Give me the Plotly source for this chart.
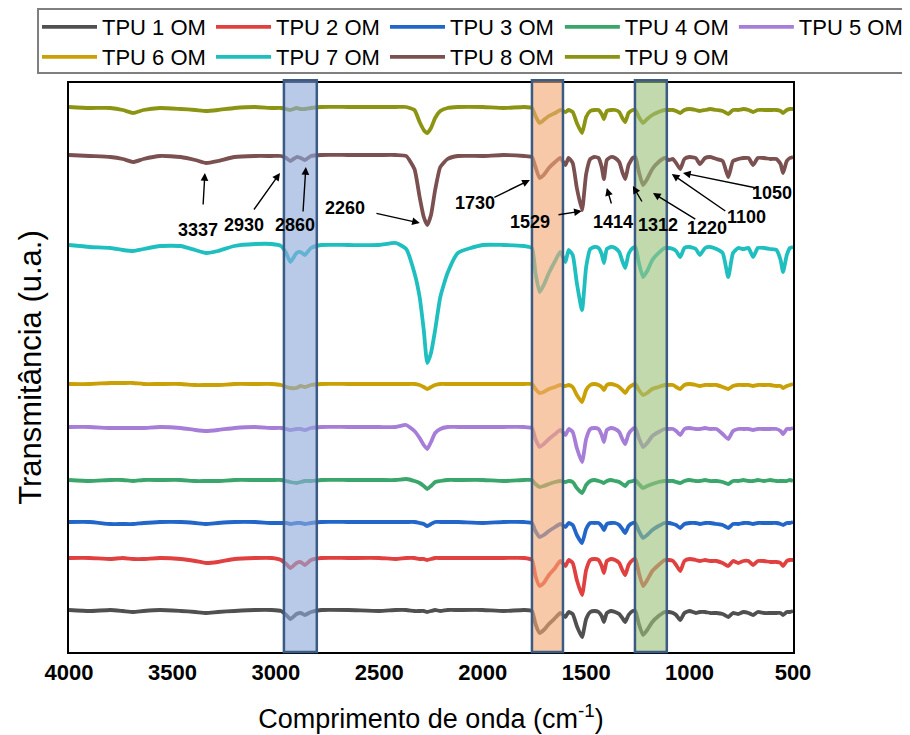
import plotly.graph_objects as go

# ---------------- data ----------------
wavenumber = [4000, 3900, 3800, 3740, 3690, 3640, 3560, 3460, 3390, 3337,
              3280, 3200, 3100, 3020, 2975, 2950, 2930, 2900, 2880, 2860,
              2830, 2780, 2650, 2500, 2420, 2370, 2330, 2305, 2285, 2268,
              2250, 2230, 2205, 2170, 2120, 2000, 1900, 1800, 1762, 1745,
              1725, 1705, 1680, 1650, 1625, 1600, 1585, 1565, 1545, 1520,
              1500, 1480, 1460, 1440, 1425, 1414, 1400, 1380, 1360, 1340,
              1325, 1311, 1295, 1275, 1262, 1245, 1225, 1205, 1180, 1150,
              1120, 1100, 1080, 1065, 1045, 1025, 1000, 970, 950, 925,
              900, 870, 840, 813, 790, 765, 740, 715, 693, 670,
              640, 610, 580, 560, 548, 530, 515, 500]

series_names = ["TPU 1 OM", "TPU 2 OM", "TPU 3 OM", "TPU 4 OM", "TPU 5 OM",
                "TPU 6 OM", "TPU 7 OM", "TPU 8 OM", "TPU 9 OM"]

# vertical offset of each spectrum (u.a.)
offsets = [42, 94, 130, 172, 225, 268, 407, 497, 545]

# band depth below each spectrum's baseline (u.a.), one value per wavenumber
tpu1_band = [0, 1, 0, 1, 2, 1, 0, 1, 2, 3,
             2, 1, 0, 0, 1, 5, 9, 4, 3, 5,
             2, 0, 0, 1, 0, 0, 1, 1, 1, 2,
             1, 0, 1, 0, 0, 0, 1, 0, 1, 14,
             23, 20, 14, 8, 3, 7, 2, 4, 16, 27,
             9, 2, 1, 2, 6, 12, 3, 1, 2, 4,
             8, 12, 5, 1, 1, 14, 25, 20, 12, 6,
             2, 2, 3, 5, 10, 3, 1, 3, 2, 2,
             3, 3, 4, 7, 3, 4, 2, 3, 5, 2,
             3, 3, 3, 3, 5, 2, 2, 1]
tpu2_band = [0, 0, 1, 0, 1, 1, 0, 1, 3, 5,
             4, 1, 0, 0, 2, 6, 10, 5, 4, 7,
             2, 0, 0, 0, 1, 0, 0, 1, 1, 2,
             1, 0, 0, 0, 0, 0, 0, 0, 2, 18,
             28, 25, 17, 10, 3, 8, 2, 5, 22, 37,
             12, 2, 1, 2, 8, 15, 3, 1, 2, 5,
             12, 17, 7, 2, 1, 15, 28, 22, 13, 7,
             2, 2, 3, 7, 13, 3, 1, 2, 3, 2,
             3, 3, 5, 8, 3, 5, 3, 3, 7, 3,
             3, 4, 4, 5, 8, 3, 2, 2]
tpu3_band = [0, 0, 2, 2, 2, 1, 0, 0, 1, 2,
             1, 0, 0, 1, 1, 1, 2, 1, 1, 2,
             1, 0, 0, 0, 0, 0, 0, 1, 2, 4,
             2, 0, 0, 0, 0, 1, 0, 0, 1, 9,
             15, 13, 9, 5, 2, 5, 1, 3, 13, 21,
             7, 1, 1, 1, 4, 8, 2, 1, 1, 3,
             7, 11, 4, 1, 1, 9, 16, 13, 8, 4,
             1, 1, 2, 3, 6, 2, 1, 1, 2, 1,
             1, 2, 3, 6, 2, 2, 1, 1, 2, 1,
             1, 1, 1, 2, 3, 1, 1, 0]
tpu4_band = [0, 1, 0, 0, 1, 0, 0, 0, 1, 1,
             1, 0, 0, 0, 0, 1, 2, 3, 2, 1,
             1, 0, 0, 0, 0, -1, 1, 3, 6, 9,
             6, 2, 1, 0, 0, 0, 1, 0, 0, 4,
             7, 6, 4, 2, 1, 2, 1, 2, 8, 13,
             5, 1, 0, 1, 2, 3, 1, 0, 1, 2,
             4, 6, 2, 1, 0, 4, 8, 6, 4, 2,
             1, 1, 1, 2, 3, 1, 0, 1, 1, 0,
             1, 1, 2, 4, 1, 1, 0, 1, 1, 0,
             1, 0, 1, 1, 1, 1, 0, 1]
tpu5_band = [0, 0, 1, 1, 1, 1, 0, 1, 3, 4,
             3, 1, 0, 1, 1, 2, 3, 2, 2, 3,
             1, 0, 0, 0, 0, -2, 4, 11, 18, 22,
             15, 6, 2, 0, 0, 0, 0, 0, 1, 12,
             20, 17, 12, 7, 3, 8, 2, 5, 21, 35,
             12, 2, 1, 2, 8, 15, 3, 1, 2, 5,
             12, 17, 7, 2, 1, 11, 20, 16, 9, 5,
             2, 2, 2, 4, 8, 2, 1, 2, 2, 1,
             2, 2, 7, 12, 4, 2, 2, 2, 3, 2,
             2, 2, 2, 4, 7, 2, 2, 1]
tpu6_band = [0, 0, -1, -1, -1, 0, 0, 0, 1, 1,
             1, 0, 0, 0, 1, 3, 4, 4, 2, 3,
             1, 0, 0, 0, 0, 0, 0, 1, 3, 5,
             3, 1, 0, 0, 0, 0, 0, 0, 0, 5,
             9, 8, 5, 3, 1, 2, 1, 3, 11, 18,
             6, 1, 0, 1, 3, 6, 1, 0, 1, 3,
             6, 9, 4, 1, 0, 6, 11, 9, 5, 3,
             1, 1, 1, 3, 5, 1, 0, 1, 2, 1,
             1, 1, 3, 5, 2, 1, 1, 1, 2, 1,
             1, 1, 2, 2, 4, 2, 1, 0]
tpu7_band = [0, 2, 3, 5, 6, 4, 1, 1, 5, 8,
             6, 1, -1, -1, 1, 8, 17, 8, 7, 10,
             3, 0, 0, 0, -2, 4, 28, 52, 85, 118,
             108, 85, 52, 28, 8, 0, 0, 1, 3, 28,
             47, 40, 28, 16, 7, 17, 5, 10, 38, 65,
             22, 4, 2, 3, 9, 18, 4, 2, 3, 7,
             16, 23, 9, 3, 2, 18, 32, 26, 15, 8,
             3, 3, 4, 6, 12, 3, 2, 4, 10, 3,
             2, 4, 8, 32, 8, 3, 4, 3, 12, 3,
             3, 4, 5, 15, 27, 10, 3, 2]
tpu8_band = [0, 1, 2, 4, 7, 4, 1, 2, 5, 8,
             6, 2, 1, 1, 1, 3, 6, 2, 3, 5,
             1, 0, 0, 0, 0, 1, 14, 42, 62, 70,
             60, 35, 12, 4, 1, 1, 0, 1, 2, 12,
             23, 20, 13, 7, 3, 10, 3, 8, 33, 55,
             19, 4, 2, 3, 12, 24, 5, 2, 3, 7,
             17, 24, 10, 3, 2, 17, 30, 24, 14, 7,
             3, 5, 4, 8, 14, 4, 2, 3, 9, 3,
             2, 4, 6, 22, 6, 4, 3, 3, 10, 3,
             3, 4, 4, 9, 18, 6, 3, 2]
tpu9_band = [0, 1, 1, 3, 6, 3, 1, 2, 3, 4,
             3, 1, 0, 1, 1, 2, 3, 1, 2, 2,
             1, 0, 0, 0, 0, 0, 3, 15, 23, 26,
             21, 11, 4, 1, 0, 0, 1, 0, 1, 9,
             16, 13, 9, 6, 3, 5, 3, 5, 16, 26,
             10, 4, 3, 3, 7, 12, 4, 3, 3, 5,
             11, 15, 6, 3, 3, 10, 16, 12, 8, 5,
             3, 3, 3, 4, 6, 3, 2, 3, 4, 3,
             2, 3, 4, 7, 3, 3, 2, 3, 5, 3,
             3, 3, 3, 4, 6, 3, 2, 2]

bands = [tpu1_band, tpu2_band, tpu3_band, tpu4_band, tpu5_band,
         tpu6_band, tpu7_band, tpu8_band, tpu9_band]

# peak labels: text anchor, arrow tail, arrow head (wavenumber, u.a.)
peak_labels = ["3337", "2930", "2860", "2260", "1730", "1529",
               "1414", "1312", "1220", "1100", "1050"]
label_x = [3377, 3154, 2908, 2666, 2038, 1772, 1371, 1153, 916, 723, 602]
label_y = [422, 427, 427, 444, 449, 430, 430, 427, 424, 435, 459]
tail_x = [3352, 3111, 2869, 2521, 1951, 1641, 1376, 1226, 965, 820, 675]
tail_y = [446, 441, 439, 439, 454, 437, 447, 449, 432, 440, 464]
head_x = [3343, 2980, 2855, 2304, 1772, 1521, 1400, 1274, 1177, 1086, 1032]
head_y = [479, 479, 485, 429, 472, 441, 464, 466, 459, 478, 479]

# highlighted regions (wavenumber limits)
regions = [(2961, 2802), (1762, 1612), (1264, 1110)]
region_fill = ["rgba(142,170,219,0.62)", "rgba(244,168,114,0.62)",
               "rgba(157,192,122,0.62)"]

colors = ["#505050", "#e0403f", "#2166c8", "#3aa66b", "#a67ed8",
          "#c9a006", "#1fbfbf", "#7a5050", "#8c9413"]

x_ticks = [4000, 3500, 3000, 2500, 2000, 1500, 1000, 500]

# which legend block holds each series (two rows, split in two blocks each)
legend_of = ["legend", "legend", "legend", "legend2", "legend2",
             "legend3", "legend3", "legend3", "legend4"]

# ---------------- figure ----------------
fig = go.Figure()
for i, name in enumerate(series_names):
    yvals = [offsets[i] - d for d in bands[i]]
    fig.add_trace(go.Scatter(
        x=wavenumber, y=yvals, mode="lines", name=name,
        line=dict(color=colors[i], width=3.8, shape="spline", smoothing=0.5),
        legend=legend_of[i],
        hoverinfo="skip",
    ))

shapes = []
for (x0, x1), fc in zip(regions, region_fill):
    shapes.append(dict(type="rect", xref="x", yref="paper", x0=x0, x1=x1,
                       y0=0, y1=1.005, fillcolor=fc,
                       line=dict(color="#3b5b85", width=2.5), layer="above"))
# legend frame
shapes.append(dict(type="rect", xref="paper", yref="paper",
                   x0=-0.0428, x1=1.18, y0=1.0176, y1=1.1301,
                   line=dict(color="#7f7f7f", width=2)))

annotations = []
for t, lx, ly, tx, ty, hx, hy in zip(peak_labels, label_x, label_y,
                                      tail_x, tail_y, head_x, head_y):
    annotations.append(dict(x=hx, y=hy, ax=tx, ay=ty, xref="x", yref="y",
                            axref="x", ayref="y", text="", showarrow=True,
                            arrowhead=2, arrowsize=1.1, arrowwidth=1.4,
                            arrowcolor="black"))
    annotations.append(dict(x=lx, y=ly, xref="x", yref="y", text=t,
                            showarrow=False,
                            font=dict(family="Arial", size=18, color="black",
                                      weight="bold")))

legend_common = dict(orientation="h", xanchor="left", yanchor="middle",
                     entrywidth=104, entrywidthmode="pixels", itemwidth=55,
                     font=dict(family="Arial", size=22, color="black"),
                     bgcolor="rgba(0,0,0,0)", borderwidth=0,
                     traceorder="normal")

fig.update_layout(
    width=902, height=727,
    margin=dict(l=61, r=117, t=75, b=83, autoexpand=False),
    paper_bgcolor="white", plot_bgcolor="white",
    showlegend=True,
    legend=dict(x=-0.0442, y=1.0984, **legend_common),
    legend2=dict(x=0.678, y=1.0984, **legend_common),
    legend3=dict(x=-0.0442, y=1.0457, **legend_common),
    legend4=dict(x=0.678, y=1.0457, **legend_common),
    shapes=shapes,
    annotations=annotations,
    xaxis=dict(range=[4000, 500], tickvals=x_ticks,
               ticktext=[str(v) for v in x_ticks], ticks="",
               showgrid=False, zeroline=False, showline=True,
               linecolor="black", linewidth=2, mirror=True,
               tickfont=dict(family="Arial", size=22, color="black",
                             weight="bold"),
               title=dict(text="Comprimento de onda (cm<sup>-1</sup>)",
                          font=dict(family="Arial", size=27, color="black"),
                          standoff=25),
               automargin=False),
    yaxis=dict(range=[0, 569], showticklabels=False, ticks="",
               showgrid=False, zeroline=False, showline=True,
               linecolor="black", linewidth=2, mirror=True,
               title=dict(text="Transmitância (u.a.)",
                          font=dict(family="Arial", size=31, color="black"),
                          standoff=16),
               automargin=False),
)

fig.write_html("out.html")
